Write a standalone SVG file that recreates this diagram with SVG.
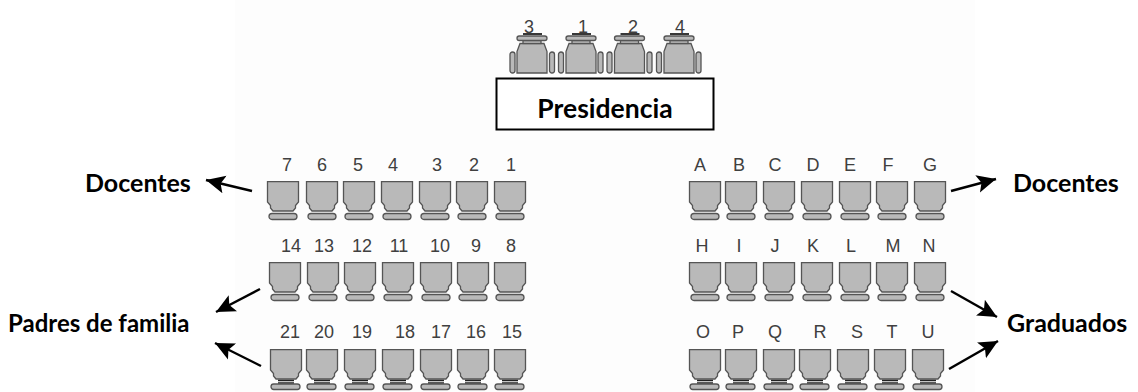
<svg xmlns="http://www.w3.org/2000/svg" width="1138" height="392" viewBox="0 0 1138 392">
<style>
.n{font:18px "Liberation Sans",Arial,sans-serif;fill:#404040;text-anchor:middle}
.l{font:bold 25px Lato,"Open Sans",sans-serif;fill:#000}
.s{fill:#b9b9b9;stroke:#555;stroke-width:1.3}
.d{fill:none;stroke:#222;stroke-width:1.6}
.a{fill:none;stroke:#000;stroke-width:2.4;marker-end:url(#h)}
</style>
<defs>
<marker id="h" markerUnits="userSpaceOnUse" markerWidth="24" markerHeight="24" refX="19" refY="10" orient="auto"><path d="M0 1L19 10L0 19L4 10Z" fill="#000"/></marker>
<g id="seat"><path class="s" d="M.5 .7H31.500V21L28.500 24.500V27L26 30H6L3.500 27V24.500L.5 21Z"/></g>
<g id="ch1"><use href="#seat"/><rect class="s" x="2" y="32.500" width="28" height="6" rx="3"/></g>
<g id="ch3"><use href="#seat"/><path class="d" d="M8 31.500H24M8 34H24"/><rect class="s" x="1" y="35" width="29" height="5.500" rx="2.700"/></g>
<g id="top"><path class="s" d="M3 0H27L30 8V29.500H0V8Z"/><rect class="s" x="6" y="-3" width="18" height="3"/><rect class="s" x="0" y="-7.500" width="30" height="4.500" rx="2.200"/><path d="M6-9.500H25" stroke="#222" stroke-width="1.800"/></g>
<rect id="arm" class="s" width="5" height="21" rx="2.500"/>
</defs>
<rect width="1138" height="392" fill="#fff"/>
<rect x="235" y="0" width="740" height="392" fill="#fdfdfd"/>
<g id="connectors">
<path class="a" d="M252 191L206 180"/>
<path class="a" d="M260 289L216 312"/>
<path class="a" d="M261 366L215 343"/>
<path class="a" d="M951 191L996 179"/>
<path class="a" d="M951 291L997 317"/>
<path class="a" d="M949 369L998 341"/>
</g>
<g id="presidencia">
<use href="#top" x="517" y="43.500"/><use href="#top" x="566" y="43.500"/><use href="#top" x="614.500" y="43.500"/><use href="#top" x="664" y="43.500"/>
<use href="#arm" x="510" y="52"/><use href="#arm" x="549.500" y="52"/><use href="#arm" x="558.500" y="52"/><use href="#arm" x="598" y="52"/><use href="#arm" x="607" y="52"/><use href="#arm" x="647" y="52"/><use href="#arm" x="656.500" y="52"/><use href="#arm" x="696" y="52"/>
<text class="n" x="529" y="33">3</text><text class="n" x="583" y="33">1</text><text class="n" x="633" y="33">2</text><text class="n" x="680" y="33">4</text>
<rect x="496.500" y="78.500" width="217" height="51" fill="#fff" stroke="#000" stroke-width="2"/>
<text class="l" x="605" y="118" text-anchor="middle" style="font-size:26.500px">Presidencia</text>
</g>
<g id="izquierda">
<use href="#ch1" x="267" y="181"/><use href="#ch1" x="306" y="181"/><use href="#ch1" x="343" y="181"/><use href="#ch1" x="381" y="181"/><use href="#ch1" x="419" y="181"/><use href="#ch1" x="456" y="181"/><use href="#ch1" x="494" y="181"/>
<use href="#ch1" x="269" y="262"/><use href="#ch1" x="307" y="262"/><use href="#ch1" x="344" y="262"/><use href="#ch1" x="382" y="262"/><use href="#ch1" x="420" y="262"/><use href="#ch1" x="457" y="262"/><use href="#ch1" x="494" y="262"/>
<use href="#ch3" x="270" y="349"/><use href="#ch3" x="306" y="349"/><use href="#ch3" x="344" y="349"/><use href="#ch3" x="382" y="349"/><use href="#ch3" x="420" y="349"/><use href="#ch3" x="457" y="349"/><use href="#ch3" x="494" y="349"/>
<text class="n" x="287" y="171">7</text><text class="n" x="322" y="171">6</text><text class="n" x="358" y="171">5</text><text class="n" x="393" y="171">4</text><text class="n" x="437" y="171">3</text><text class="n" x="474" y="171">2</text><text class="n" x="511" y="171">1</text>
<text class="n" x="291" y="252">14</text><text class="n" x="324" y="252">13</text><text class="n" x="362" y="252">12</text><text class="n" x="399" y="252">11</text><text class="n" x="440" y="252">10</text><text class="n" x="476" y="252">9</text><text class="n" x="511" y="252">8</text>
<text class="n" x="290" y="338">21</text><text class="n" x="324" y="338">20</text><text class="n" x="362" y="338">19</text><text class="n" x="405" y="338">18</text><text class="n" x="441" y="338">17</text><text class="n" x="476" y="338">16</text><text class="n" x="512" y="338">15</text>
</g>
<g id="derecha">
<use href="#ch1" x="689" y="181"/><use href="#ch1" x="725" y="181"/><use href="#ch1" x="763" y="181"/><use href="#ch1" x="801" y="181"/><use href="#ch1" x="839" y="181"/><use href="#ch1" x="876" y="181"/><use href="#ch1" x="914" y="181"/>
<use href="#ch1" x="689" y="262"/><use href="#ch1" x="725" y="262"/><use href="#ch1" x="763" y="262"/><use href="#ch1" x="801" y="262"/><use href="#ch1" x="839" y="262"/><use href="#ch1" x="876" y="262"/><use href="#ch1" x="914" y="262"/>
<use href="#ch3" x="689" y="349"/><use href="#ch3" x="725" y="349"/><use href="#ch3" x="763" y="349"/><use href="#ch3" x="799" y="349"/><use href="#ch3" x="837" y="349"/><use href="#ch3" x="874" y="349"/><use href="#ch3" x="912" y="349"/>
<text class="n" x="700" y="171">A</text><text class="n" x="739" y="171">B</text><text class="n" x="775" y="171">C</text><text class="n" x="813" y="171">D</text><text class="n" x="850" y="171">E</text><text class="n" x="888" y="171">F</text><text class="n" x="930" y="171">G</text>
<text class="n" x="702" y="252">H</text><text class="n" x="739" y="252">I</text><text class="n" x="775" y="252">J</text><text class="n" x="813" y="252">K</text><text class="n" x="851" y="252">L</text><text class="n" x="893" y="252">M</text><text class="n" x="929" y="252">N</text>
<text class="n" x="703" y="338">O</text><text class="n" x="738" y="338">P</text><text class="n" x="775" y="338">Q</text><text class="n" x="820" y="338">R</text><text class="n" x="857" y="338">S</text><text class="n" x="892" y="338">T</text><text class="n" x="928" y="338">U</text>
</g>
<g id="etiquetas">
<text class="l" x="85" y="192">Docentes</text>
<text class="l" x="1013" y="192">Docentes</text>
<text class="l" x="8" y="332" style="font-size:24px">Padres de familia</text>
<text class="l" x="1007" y="332">Graduados</text>
</g>
</svg>
